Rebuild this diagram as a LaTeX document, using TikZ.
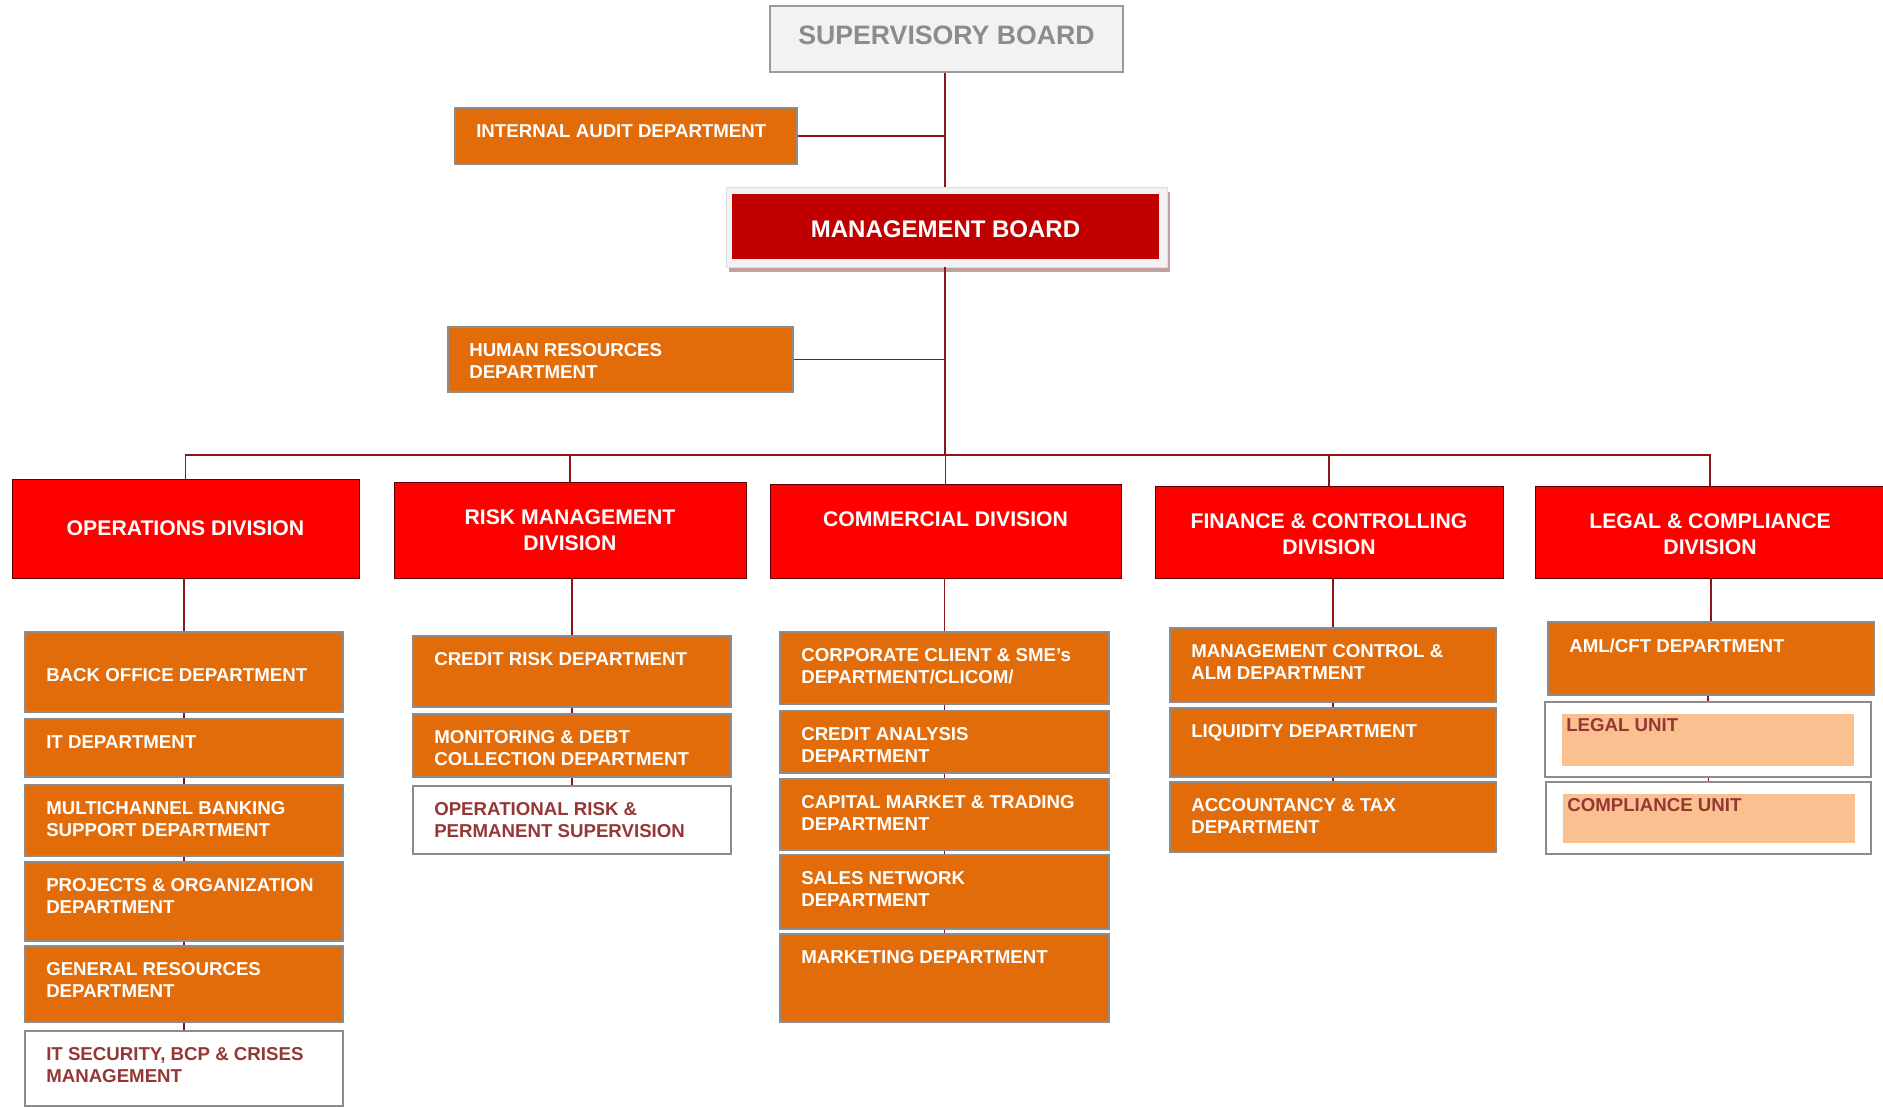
\documentclass[tikz,border=0pt]{standalone}
\usepackage{fontspec}
\setmainfont{Liberation Sans}
\usetikzlibrary{positioning,fit,shadows}

\definecolor{linkred}{HTML}{8C1515}
\definecolor{deptorange}{HTML}{E36C0A}
\definecolor{deptgrey}{HTML}{8C8C8C}
\definecolor{divred}{HTML}{FF0000}
\definecolor{divline}{HTML}{600000}
\definecolor{mbred}{HTML}{C00000}
\definecolor{mbshadow}{HTML}{C0A0A0}
\definecolor{boardgrey}{HTML}{F2F2F2}
\definecolor{boardline}{HTML}{9A9A9A}
\definecolor{sbtext}{HTML}{8C8C8C}
\definecolor{unitred}{HTML}{953735}
\definecolor{unitpeach}{HTML}{FAC090}

\newcommand\deptfont{\fontsize{14}{16.3}\selectfont\bfseries}
\newcommand\divfont{\fontsize{15.9}{19.3}\selectfont\bfseries}
\newcommand\sbfont{\fontsize{20}{24}\selectfont\bfseries}
\newcommand\mbfont{\fontsize{18}{22}\selectfont\bfseries}

\begin{document}
\begin{tikzpicture}[x=0.75pt, y=-0.75pt,
  link/.style={draw=linkred, line width=1pt},
  fitbox/.style={rectangle, inner sep=0pt, fit={#1}},
  dept/.style={fitbox={#1}, fill=deptorange, draw=deptgrey, line width=1.5pt},
  unitbox/.style={fitbox={#1}, draw=deptgrey, line width=1.5pt},
  unitfill/.style={fitbox={#1}, fill=unitpeach},
  division/.style={fitbox={#1}, fill=divred, draw=divline, line width=0.75pt},
  depttxt/.style={anchor=north west, xshift=16.5pt, yshift=-13pt, inner sep=0pt, align=left, text=white, font=\deptfont},
  unittxt/.style={depttxt, text=unitred},
  divtxt/.style={anchor=center, inner sep=0pt, align=center, text=white, font=\divfont}]
  \path[use as bounding box, fill=white] (0,0) rectangle (1883,1107);

  % Boards on top
  \node[fitbox={(770,6) (1123,72)}, fill=boardgrey, draw=boardline, line width=1.2pt,
        label={[divtxt, font=\sbfont, text=sbtext, yshift=3pt]center:SUPERVISORY BOARD}] (sboard) {};
  \node[fitbox={(726,187) (1167,267)}, fill=boardgrey, draw=gray!25, line width=0.5pt,
        drop shadow={shadow xshift=2.25pt, shadow yshift=-3.75pt, fill=mbshadow, opacity=1}] (mbframe) {};
  \node[fitbox={(732,194) (1159,259)}, fill=mbred,
        label={[divtxt, font=\mbfont, yshift=-2pt]center:MANAGEMENT BOARD}] (mboard) {};

  % Staff departments
  \node[dept={(455,108) (797,164)}, label={[depttxt]north west:INTERNAL AUDIT DEPARTMENT}] (iaudit) {};
  \node[dept={(448,327) (793,392)}, label={[depttxt]north west:{HUMAN RESOURCES\\DEPARTMENT}}] (hres) {};

  % Divisions
  \node[division={(12,479) (359,578)}, label={[divtxt]center:OPERATIONS DIVISION}] (opsdiv) {};
  \node[division={(394,482) (746,578)}, label={[divtxt]center:{RISK MANAGEMENT\\DIVISION}}] (riskdiv) {};
  \node[division={(770,484) (1121,578)}, label={[divtxt, yshift=9pt]center:COMMERCIAL DIVISION}] (comdiv) {};
  \node[division={(1155,486) (1503,578)}, label={[divtxt, yshift=-1.5pt]center:{FINANCE \& CONTROLLING\\DIVISION}}] (findiv) {};
  \node[division={(1535,486) (1885,578)}, label={[divtxt, yshift=-1.5pt]center:{LEGAL \& COMPLIANCE\\DIVISION}}] (legdiv) {};

  % Operations departments
  \node[dept={(25,632) (343,712)}, label={[depttxt, yshift=-15pt]north west:BACK OFFICE DEPARTMENT}] (bo) {};
  \node[dept={(25,719) (343,777)}, label={[depttxt]north west:IT DEPARTMENT}] (itd) {};
  \node[dept={(25,785) (343,856)}, label={[depttxt]north west:{MULTICHANNEL BANKING\\SUPPORT DEPARTMENT}}] (mcb) {};
  \node[dept={(25,862) (343,941)}, label={[depttxt]north west:{PROJECTS \& ORGANIZATION\\DEPARTMENT}}] (pod) {};
  \node[dept={(25,946) (343,1022)}, label={[depttxt]north west:{GENERAL RESOURCES\\DEPARTMENT}}] (grd) {};
  \node[unitbox={(25,1031) (343,1106)}, fill=white, label={[unittxt]north west:{IT SECURITY, BCP \& CRISES\\MANAGEMENT}}] (itsec) {};

  % Risk departments
  \node[dept={(413,636) (731,707)}, label={[depttxt]north west:CREDIT RISK DEPARTMENT}] (crd) {};
  \node[dept={(413,714) (731,777)}, label={[depttxt]north west:{MONITORING \& DEBT\\COLLECTION DEPARTMENT}}] (mdc) {};
  \node[unitbox={(413,786) (731,854)}, fill=white, label={[unittxt]north west:{OPERATIONAL RISK \&\\PERMANENT SUPERVISION}}] (orps) {};

  % Commercial departments
  \node[dept={(780,632) (1109,704)}, label={[depttxt]north west:{CORPORATE CLIENT \& SME’s\\DEPARTMENT/CLICOM/}}] (ccs) {};
  \node[dept={(780,711) (1109,773)}, label={[depttxt]north west:{CREDIT ANALYSIS\\DEPARTMENT}}] (cad) {};
  \node[dept={(780,779) (1109,850)}, label={[depttxt]north west:{CAPITAL MARKET \& TRADING\\DEPARTMENT}}] (cmt) {};
  \node[dept={(780,855) (1109,929)}, label={[depttxt]north west:{SALES NETWORK\\DEPARTMENT}}] (snd) {};
  \node[dept={(780,934) (1109,1022)}, label={[depttxt]north west:MARKETING DEPARTMENT}] (mkd) {};

  % Finance departments
  \node[dept={(1170,628) (1496,702)}, label={[depttxt]north west:{MANAGEMENT CONTROL \&\\ALM DEPARTMENT}}] (mca) {};
  \node[dept={(1170,708) (1496,777)}, label={[depttxt]north west:LIQUIDITY DEPARTMENT}] (liq) {};
  \node[dept={(1170,782) (1496,852)}, label={[depttxt]north west:{ACCOUNTANCY \& TAX\\DEPARTMENT}}] (atd) {};

  % Legal departments and units
  \node[dept={(1548,622) (1874,695)}, label={[depttxt]north west:AML/CFT DEPARTMENT}] (aml) {};
  \node[unitfill={(1562,714) (1854,766)}] (lfill) {};
  \node[unitbox={(1545,702) (1871,777)}, label={[unittxt]north west:LEGAL UNIT}] (lunit) {};
  \node[unitfill={(1563,794) (1855,843)}] (cfill) {};
  \node[unitbox={(1546,782) (1871,854)}, label={[unittxt]north west:COMPLIANCE UNIT}] (cunit) {};

  % Connectors
  \coordinate (bus) at (945,455);
  \draw[link] (bus |- sboard.south) -- (bus |- mbframe.north);
  \draw[link] (iaudit.east) -- (iaudit.east -| bus);
  \draw[link] (hres.east) -- (hres.east -| bus);
  \draw[link] (bus |- mbframe.south) -- (bus);
  \draw[link] (opsdiv.north) -- (opsdiv.north |- bus) -- (legdiv.north |- bus) -- (legdiv.north);
  \foreach \d in {riskdiv, comdiv, findiv}
    \draw[link] (\d.north) -- (\d.north |- bus);
  \foreach \a/\b in {opsdiv/bo, bo/itd, itd/mcb, mcb/pod, pod/grd, grd/itsec,
                     riskdiv/crd, crd/mdc, mdc/orps,
                     comdiv/ccs, ccs/cad, cad/cmt, cmt/snd, snd/mkd,
                     findiv/mca, mca/liq, liq/atd,
                     legdiv/aml, aml/lunit, lunit/cunit}
    \draw[link] (\b.north) -- (\b.north |- \a.south);
\end{tikzpicture}
\end{document}
